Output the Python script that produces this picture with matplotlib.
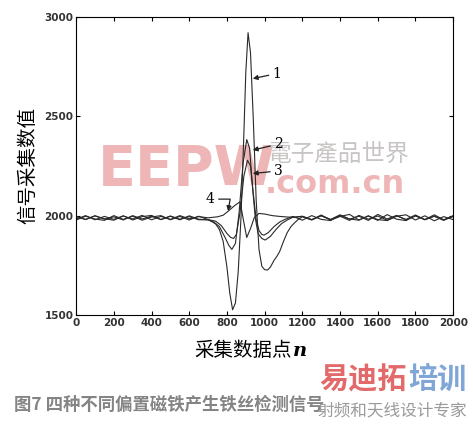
import matplotlib.pyplot as plt

plt.rcParams['font.family'] = ['DejaVu Sans', 'Noto Sans CJK SC']

# ---- data (x = sample index, y = reading) ----
x1 = [0, 50, 100, 150, 200, 250, 300, 350, 400, 450, 500, 550, 600, 650, 700, 720,
      740, 760, 780, 800, 815, 830, 845, 860, 875, 890, 900, 912, 925, 940, 955, 970,
      985, 1000, 1015, 1030, 1050, 1065, 1080, 1100, 1120, 1140, 1160, 1180, 1200,
      1250, 1300, 1350, 1400, 1450, 1500, 1550, 1600, 1650, 1700, 1750, 1800, 1850,
      1900, 1950, 2000]
y1 = [1996, 1980, 1999, 1982, 1994, 1978, 2000, 1983, 1997, 1980, 1998, 1982, 1995, 1979, 1980, 1970,
      1958, 1930, 1870, 1740, 1610, 1526, 1560, 1720, 2000, 2420, 2720, 2921, 2820, 2480, 2080, 1830,
      1745, 1728, 1726, 1740, 1775, 1795, 1820, 1870, 1915, 1945, 1965, 1982, 1994,
      1978, 2000, 1981, 2004, 1982, 1997, 1976, 2006, 1983, 2001, 1978, 1998, 1980,
      2004, 1979, 1999]

x2 = [0, 50, 100, 150, 200, 250, 300, 350, 400, 450, 500, 550, 600, 650, 700, 730,
      760, 790, 810, 826, 845, 865, 885, 905, 920, 935, 950, 965, 985, 1003, 1030,
      1060, 1090, 1120, 1150, 1200, 1250, 1300, 1350, 1400, 1450, 1500, 1550, 1600,
      1650, 1700, 1750, 1800, 1850, 1900, 1950, 2000]
y2 = [1982, 2000, 1979, 1996, 1981, 1999, 1978, 1995, 2001, 1980, 1997, 1979, 1999, 1982, 1978, 1968,
      1945, 1890, 1850, 1830, 1860, 2020, 2260, 2383, 2340, 2150, 1990, 1910, 1885, 1877, 1895,
      1930, 1960, 1978, 1992, 1997, 1979, 2003, 1978, 1996, 2006, 1978, 1998, 1976,
      2005, 1982, 1975, 2001, 1980, 1997, 1978, 1995]

x3 = [0, 50, 100, 150, 200, 250, 300, 350, 400, 450, 500, 550, 600, 650, 700, 740,
      770, 800, 820, 835, 850, 870, 890, 909, 925, 940, 955, 970, 985, 997, 1020,
      1050, 1080, 1110, 1150, 1200, 1250, 1300, 1350, 1400, 1450, 1500, 1550, 1600,
      1650, 1700, 1750, 1800, 1850, 1900, 1950, 2000]
y3 = [1978, 1997, 1983, 1976, 2000, 1981, 1997, 1977, 1993, 2000, 1979, 1996, 1978, 1997, 1980, 1972,
      1950, 1910, 1890, 1885, 1905, 2020, 2200, 2279, 2250, 2110, 1980, 1925, 1905, 1902, 1915,
      1945, 1968, 1982, 1996, 1977, 2000, 1981, 1975, 2002, 1983, 1977, 1999, 1980,
      1975, 1997, 2004, 1978, 1999, 1974, 1995, 1980]

x4 = [0, 50, 100, 150, 200, 250, 300, 350, 400, 450, 500, 550, 600, 650, 700, 750,
      780, 810, 840, 870, 885, 905, 925, 945, 970, 1000, 1040, 1080, 1120, 1160,
      1200, 1250, 1300, 1350, 1400, 1450, 1500, 1550, 1600, 1650, 1700, 1750, 1800,
      1850, 1900, 1950, 2000]
y4 = [1995, 1981, 1999, 1984, 1977, 1998, 1983, 2001, 1979, 1996, 1981, 2000, 1984, 1995, 1989, 1994,
      2002, 2025, 2050, 2070, 1990, 1890, 1935, 1990, 2011, 2008, 2000, 1996, 1993, 1991,
      1996, 1980, 1999, 1979, 1997, 1976, 2001, 1982, 1998, 1977, 1999, 1981, 2003,
      1979, 1997, 1976, 1999]

labels = ['1', '2', '3', '4']
label_pos = [(1065, 2715), (1073, 2360), (1073, 2225), (712, 2083)]
arrow_tip = [(937, 2690), (937, 2330), (937, 2212), (806, 2023)]

x_ticks = list(range(0, 2001, 200))
y_ticks = [1500, 2000, 2500, 3000]

fig = plt.figure(figsize=(4.73, 4.25), dpi=100)
ax = fig.add_axes([0.161, 0.259, 0.797, 0.701])
ax.patch.set_alpha(0)

# watermarks behind the axes
fig.text(0.207, 0.6, 'EEPW', fontsize=40, fontweight='bold', color='#eeb6b6',
         ha='left', va='center', zorder=-1)
fig.text(0.56, 0.565, '.com.cn', fontsize=23, fontweight='bold', color='#eeb6b6',
         ha='left', va='center', zorder=-1)
fig.text(0.565, 0.637, '電子產品世界', fontsize=17, color='#c9c4c4',
         family=['Noto Sans CJK TC'], ha='left', va='center', zorder=-1)

for xs, ys in [(x1, y1), (x2, y2), (x3, y3), (x4, y4)]:
    ax.plot(xs, ys, color='#2a2a2a', linewidth=0.8)

for i, (lab, pos, tip) in enumerate(zip(labels, label_pos, arrow_tip)):
    ax.text(pos[0], pos[1], lab, fontsize=10, family='DejaVu Serif',
            ha='center', va='center')
    if i == 3:
        cs = 'angle,angleA=0,angleB=80,rad=0'
    else:
        cs = 'arc3'
    ax.annotate('', xy=tip, xytext=pos,
                arrowprops=dict(arrowstyle='-|>', color='#222', lw=0.9,
                                mutation_scale=7, shrinkA=6, shrinkB=0,
                                patchA=None, connectionstyle=cs))

ax.set_xlim(0, 2000)
ax.set_ylim(1500, 3000)
ax.set_xticks(x_ticks)
ax.set_yticks(y_ticks)
ax.tick_params(direction='in', top=True, right=True, labelsize=7.5, length=3, pad=2)
for lbl in ax.get_xticklabels() + ax.get_yticklabels():
    lbl.set_fontweight('bold')
    lbl.set_color('#333')
for s in ax.spines.values():
    s.set_linewidth(0.8)

ax.set_ylabel('信号采集数值', fontsize=14, family=['Noto Sans CJK SC'], labelpad=4)
fig.text(0.617, 0.176, '采集数据点', fontsize=14, family=['Noto Sans CJK SC'],
         ha='right', va='center')
fig.text(0.62, 0.173, 'n', fontsize=14, family='DejaVu Serif', style='italic',
         fontweight='bold', ha='left', va='center')

fig.text(0.03, 0.047, '图7 四种不同偏置磁铁产生铁丝检测信号', fontsize=12.5,
         fontweight='bold', color='#848484', family=['Noto Sans CJK SC'],
         ha='left', va='center')

fig.text(0.675, 0.108, '易迪拓', fontsize=21, fontweight='bold', color='#e36a6a',
         family=['Noto Sans CJK SC'], ha='left', va='center')
fig.text(0.862, 0.108, '培训', fontsize=21, fontweight='bold', color='#7fa6d6',
         family=['Noto Sans CJK SC'], ha='left', va='center')
fig.text(0.672, 0.034, '射频和天线设计专家', fontsize=12, color='#9a9a9a',
         family=['Noto Sans CJK SC'], ha='left', va='center')

fig.savefig('out.png', dpi=100)
